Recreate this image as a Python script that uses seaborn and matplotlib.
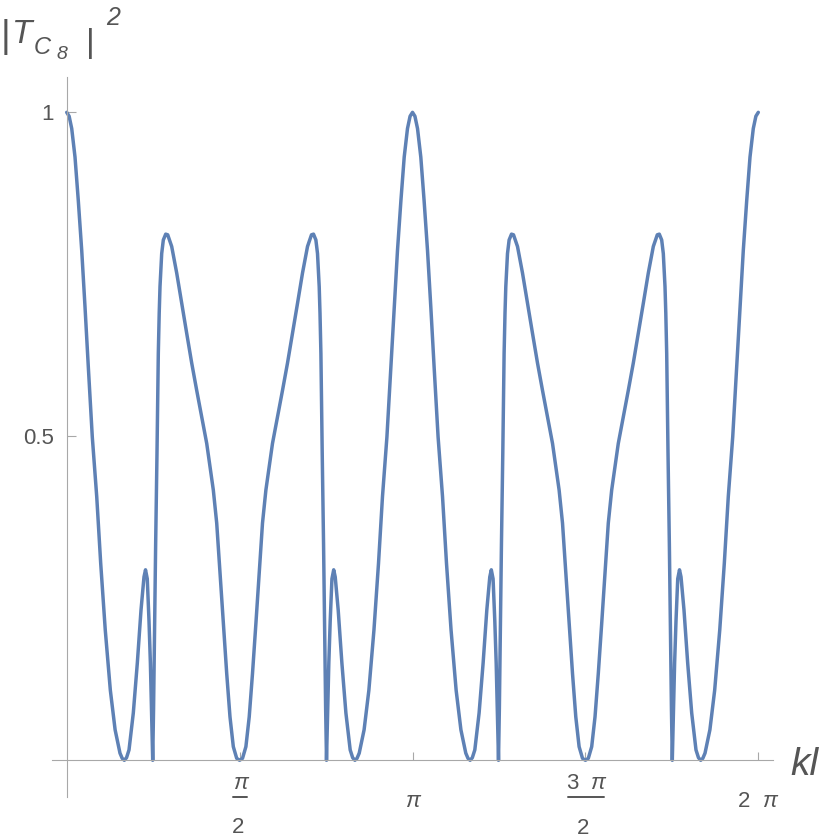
import numpy as np
import pandas as pd
import matplotlib
matplotlib.use("Agg")
import matplotlib.pyplot as plt
import seaborn as sns

# kl in units of pi, |T_C8|^2 values (four quarters)
kl_q1 = [0.0000, 0.0070, 0.0145, 0.0240, 0.0335, 0.0434, 0.0529, 0.0625, 0.0740, 0.0868,
         0.0983, 0.1115, 0.1262, 0.1400, 0.1541, 0.1605, 0.1666, 0.1730, 0.1802, 0.1926,
         0.2042, 0.2149, 0.2235, 0.2279, 0.2330, 0.2380, 0.2420, 0.2450, 0.2487, 0.2512,
         0.2535, 0.2572, 0.2611, 0.2649, 0.2675, 0.2698, 0.2747, 0.2794, 0.2863, 0.2921,
         0.3036, 0.3181, 0.3326, 0.3470, 0.3615, 0.3759, 0.3904, 0.4049, 0.4144, 0.4240,
         0.4338, 0.4433, 0.4529, 0.4627, 0.4722, 0.4818, 0.4916, 0.5000]
T2_q1 = [1.000, 0.994, 0.975, 0.931, 0.864, 0.787, 0.700, 0.607, 0.499, 0.407,
         0.304, 0.201, 0.108, 0.047, 0.011, 0.003, 0.000, 0.004, 0.016, 0.073,
         0.150, 0.232, 0.283, 0.294, 0.280, 0.215, 0.150, 0.080, 0.000, 0.080,
         0.180, 0.333, 0.474, 0.628, 0.690, 0.731, 0.782, 0.803, 0.812, 0.811,
         0.793, 0.752, 0.705, 0.659, 0.613, 0.571, 0.530, 0.489, 0.453, 0.417,
         0.366, 0.289, 0.211, 0.134, 0.067, 0.021, 0.003, 0.000]

kl_q2 = [0.5084, 0.5182, 0.5278, 0.5373, 0.5471, 0.5567, 0.5662, 0.5760, 0.5856, 0.5951,
         0.6096, 0.6241, 0.6385, 0.6530, 0.6674, 0.6819, 0.6964, 0.7079, 0.7137, 0.7206,
         0.7253, 0.7302, 0.7325, 0.7351, 0.7389, 0.7428, 0.7465, 0.7488, 0.7513, 0.7550,
         0.7580, 0.7620, 0.7670, 0.7721, 0.7765, 0.7851, 0.7958, 0.8074, 0.8198, 0.8270,
         0.8334, 0.8395, 0.8459, 0.8600, 0.8738, 0.8885, 0.9017, 0.9132, 0.9260, 0.9375,
         0.9471, 0.9566, 0.9665, 0.9760, 0.9855, 0.9930, 1.0000]
T2_q2 = [0.003, 0.021, 0.067, 0.134, 0.211, 0.289, 0.366, 0.417, 0.453, 0.489,
         0.530, 0.571, 0.613, 0.659, 0.705, 0.752, 0.793, 0.811, 0.812, 0.803,
         0.782, 0.731, 0.690, 0.628, 0.474, 0.333, 0.180, 0.080, 0.000, 0.080,
         0.150, 0.215, 0.280, 0.294, 0.283, 0.232, 0.150, 0.073, 0.016, 0.004,
         0.000, 0.003, 0.011, 0.047, 0.108, 0.201, 0.304, 0.407, 0.499, 0.607,
         0.700, 0.787, 0.864, 0.931, 0.975, 0.994, 1.000]

kl_q3 = [1.0070, 1.0145, 1.0240, 1.0335, 1.0434, 1.0529, 1.0625, 1.0740, 1.0868,
         1.0983, 1.1115, 1.1262, 1.1400, 1.1541, 1.1605, 1.1666, 1.1730, 1.1802, 1.1926,
         1.2042, 1.2149, 1.2235, 1.2279, 1.2330, 1.2380, 1.2420, 1.2450, 1.2487, 1.2512,
         1.2535, 1.2572, 1.2611, 1.2649, 1.2675, 1.2698, 1.2747, 1.2794, 1.2863, 1.2921,
         1.3036, 1.3181, 1.3326, 1.3470, 1.3615, 1.3759, 1.3904, 1.4049, 1.4144, 1.4240,
         1.4338, 1.4433, 1.4529, 1.4627, 1.4722, 1.4818, 1.4916, 1.5000]
T2_q3 = [0.994, 0.975, 0.931, 0.864, 0.787, 0.700, 0.607, 0.499, 0.407,
         0.304, 0.201, 0.108, 0.047, 0.011, 0.003, 0.000, 0.004, 0.016, 0.073,
         0.150, 0.232, 0.283, 0.294, 0.280, 0.215, 0.150, 0.080, 0.000, 0.080,
         0.180, 0.333, 0.474, 0.628, 0.690, 0.731, 0.782, 0.803, 0.812, 0.811,
         0.793, 0.752, 0.705, 0.659, 0.613, 0.571, 0.530, 0.489, 0.453, 0.417,
         0.366, 0.289, 0.211, 0.134, 0.067, 0.021, 0.003, 0.000]

kl_q4 = [1.5084, 1.5182, 1.5278, 1.5373, 1.5471, 1.5567, 1.5662, 1.5760, 1.5856, 1.5951,
         1.6096, 1.6241, 1.6385, 1.6530, 1.6674, 1.6819, 1.6964, 1.7079, 1.7137, 1.7206,
         1.7253, 1.7302, 1.7325, 1.7351, 1.7389, 1.7428, 1.7465, 1.7488, 1.7513, 1.7550,
         1.7580, 1.7620, 1.7670, 1.7721, 1.7765, 1.7851, 1.7958, 1.8074, 1.8198, 1.8270,
         1.8334, 1.8395, 1.8459, 1.8600, 1.8738, 1.8885, 1.9017, 1.9132, 1.9260, 1.9375,
         1.9471, 1.9566, 1.9665, 1.9760, 1.9855, 1.9930, 2.0000]
T2_q4 = [0.003, 0.021, 0.067, 0.134, 0.211, 0.289, 0.366, 0.417, 0.453, 0.489,
         0.530, 0.571, 0.613, 0.659, 0.705, 0.752, 0.793, 0.811, 0.812, 0.803,
         0.782, 0.731, 0.690, 0.628, 0.474, 0.333, 0.180, 0.080, 0.000, 0.080,
         0.150, 0.215, 0.280, 0.294, 0.283, 0.232, 0.150, 0.073, 0.016, 0.004,
         0.000, 0.003, 0.011, 0.047, 0.108, 0.201, 0.304, 0.407, 0.499, 0.607,
         0.700, 0.787, 0.864, 0.931, 0.975, 0.994, 1.000]

xtick_pi_multiples = [0.5, 1.0, 1.5, 2.0]
ytick_values = [0.5, 1.0]
ytick_labels = ["0.5", "1"]

sns.set_theme(style="white")
plt.rcParams["font.family"] = ["Liberation Sans", "DejaVu Sans"]

kl_pi = np.array(kl_q1 + kl_q2 + kl_q3 + kl_q4)
T2 = np.array(T2_q1 + T2_q2 + T2_q3 + T2_q4)
df = pd.DataFrame({"kl": kl_pi * np.pi, "T2": T2})

W, H = 830, 840
fig = plt.figure(figsize=(W / 100, H / 100), dpi=100)
fig.patch.set_facecolor("white")

ax = fig.add_axes([52 / W, 1 - 796.7 / H, (772.7 - 52) / W, (796.7 - 76.7) / H])
sns.lineplot(data=df, x="kl", y="T2", sort=False, estimator=None, ax=ax,
             color="#5E81B5", linewidth=2.5, solid_joinstyle="round",
             solid_capstyle="round")

ax.set_xlim(-0.1336, 6.414)
ax.set_ylim(-0.0562, 1.055)
ax.set_xlabel("")
ax.set_ylabel("")
ax.set_facecolor("white")

axis_gray = "#a8a8a8"
text_gray = "#555555"
for s in ["top", "right"]:
    ax.spines[s].set_visible(False)
for s in ["left", "bottom"]:
    ax.spines[s].set_position(("data", 0))
    ax.spines[s].set_color(axis_gray)
    ax.spines[s].set_linewidth(0.8)

ax.set_xticks([m * np.pi for m in xtick_pi_multiples])
ax.set_xticklabels([""] * len(xtick_pi_multiples))
ax.set_yticks(ytick_values)
ax.set_yticklabels(ytick_labels)
ax.tick_params(axis="x", direction="in", length=6, width=0.8, color=axis_gray, bottom=True)
ax.tick_params(axis="y", direction="in", length=6.5, width=0.8, color=axis_gray, left=True,
               labelsize=16, labelcolor=text_gray, pad=9)


def P(x, y):
    return x / W, 1 - y / H


def t(x, y, s, size=16, style="normal", ha="center", va="baseline"):
    fig.text(*P(x, y), s, fontsize=size, style=style, color=text_gray, ha=ha, va=va)


def frac_line(x0, x1, y):
    fig.add_artist(plt.Line2D([x0 / W, x1 / W], [1 - y / H, 1 - y / H],
                              color=text_gray, linewidth=1.4, transform=fig.transFigure))

# x tick labels (Mathematica-style fractions)
t(240, 789, "π", style="italic")
frac_line(233, 247, 796.5)
t(238.5, 833, "2")

t(412.5, 807, "π", style="italic")

t(572.7, 789, "3")
t(597.5, 789, "π", style="italic")
frac_line(567.7, 604.3, 796.5)
t(583.5, 834, "2")

t(744, 807, "2")
t(769.5, 807, "π", style="italic")

# axis labels
t(790, 775, "kl", size=28, style="italic", ha="left")

t(1, 47, "|", size=27, ha="left")
t(12, 43, "T", size=24, style="italic", ha="left")
t(34, 54, "C", size=17, style="italic", ha="left")
t(56, 59, "8", size=14, style="italic", ha="left")
t(86, 52, "|", size=24, ha="left")
t(106, 25, "2", size=18, style="italic", ha="left")

fig.savefig("out.png", dpi=100, facecolor="white")
